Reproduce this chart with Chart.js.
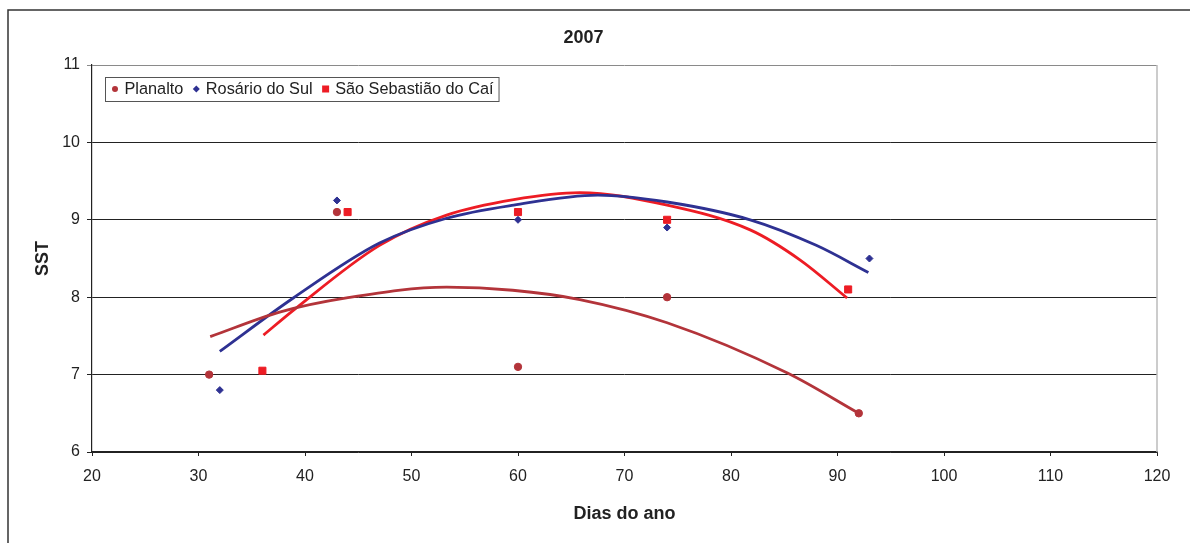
<!DOCTYPE html>
<html>
<head>
<meta charset="utf-8">
<script src="https://cdn.jsdelivr.net/npm/chart.js@4/dist/chart.umd.min.js"></script>
<style>
  html, body { margin: 0; padding: 0; background: #fff; }
  #wrap { width: 1190px; height: 543px; }
</style>
</head>
<body>
<div id="wrap"><canvas id="chart" width="1190" height="543"></canvas></div>
<script>
// measured points (dias do ano, SST)
const planaltoX = [31, 43, 60, 74, 92];
const planaltoY = [7.0, 9.1, 7.1, 8.0, 6.5];
const rosarioX = [32, 43, 60, 74, 93];
const rosarioY = [6.8, 9.25, 9.0, 8.9, 8.5];
const caiX = [36, 44, 60, 74, 91];
const caiY = [7.05, 9.1, 9.1, 9.0, 8.1];

// trend curves
const planaltoTrendX = [31.1, 37.7, 43.9, 53.3, 59.5, 65.8, 74.0, 85.3, 92.0];
const planaltoTrendY = [7.49, 7.81, 7.99, 8.13, 8.09, 7.97, 7.67, 7.02, 6.50];
const rosarioTrendX = [32.0, 38.9, 47.0, 53.3, 59.6, 67.5, 74.0, 81.8, 88.0, 92.9];
const rosarioTrendY = [7.30, 7.99, 8.70, 9.02, 9.19, 9.32, 9.23, 9.00, 8.67, 8.32];
const caiTrendX = [36.1, 38.9, 47.0, 53.3, 59.6, 65.8, 74.0, 81.8, 86.5, 90.9];
const caiTrendY = [7.51, 7.83, 8.67, 9.06, 9.26, 9.35, 9.19, 8.87, 8.48, 7.99];

const seriesNames = ['Planalto', 'Rosário do Sul', 'São Sebastião do Caí'];
const xTicks = [20, 30, 40, 50, 60, 70, 80, 90, 100, 110, 120];
const yTicks = [6, 7, 8, 9, 10, 11];

const colPlanalto = '#b3343a';
const colRosario = '#2e3192';
const colCai = '#ed1c24';

const pts = (xs, ys) => xs.map((x, i) => ({ x: x, y: ys[i] }));

Chart.defaults.font.family = '"Liberation Sans", Arial, sans-serif';
Chart.defaults.color = '#222';

// outer frame, right edge of plot and the boxed legend
const framePlugin = {
  id: 'frame',
  beforeDraw(chart) {
    const ctx = chart.ctx;
    ctx.save();
    ctx.strokeStyle = '#333';
    ctx.lineWidth = 1.5;
    ctx.beginPath();
    ctx.moveTo(8, 543);
    ctx.lineTo(8, 10);
    ctx.lineTo(1190, 10);
    ctx.stroke();
    ctx.restore();
  },
  beforeDatasetsDraw(chart) {
    const ctx = chart.ctx, a = chart.chartArea;
    ctx.save();
    ctx.strokeStyle = '#bbb';
    ctx.lineWidth = 1.5;
    ctx.beginPath();
    ctx.moveTo(a.right, a.top);
    ctx.lineTo(a.right, a.bottom);
    ctx.stroke();
    ctx.restore();
  },
  afterDraw(chart) {
    const ctx = chart.ctx, a = chart.chartArea;
    const left = a.left + 13, top = a.top + 12, h = 24;
    const cy = top + h / 2;
    ctx.save();
    ctx.font = '16.3px "Liberation Sans", Arial, sans-serif';
    ctx.textBaseline = 'middle';
    let x = left + 10;
    const shapes = ['circle', 'diamond', 'square'];
    const cols = [colPlanalto, colRosario, colCai];
    seriesNames.forEach((name, i) => {
      ctx.fillStyle = cols[i];
      ctx.beginPath();
      if (shapes[i] === 'circle') {
        ctx.arc(x, cy, 3, 0, Math.PI * 2);
      } else if (shapes[i] === 'diamond') {
        ctx.moveTo(x, cy - 3.5); ctx.lineTo(x + 3.5, cy);
        ctx.lineTo(x, cy + 3.5); ctx.lineTo(x - 3.5, cy);
        ctx.closePath();
      } else {
        ctx.rect(x - 3.5, cy - 3.5, 7, 7);
      }
      ctx.fill();
      ctx.fillStyle = '#222';
      ctx.fillText(name, x + 9.5, cy + 1);
      x = x + 9.5 + ctx.measureText(name).width + 13;
    });
    const right = x - 13 + 5;
    ctx.strokeStyle = '#555';
    ctx.lineWidth = 1;
    ctx.strokeRect(left + 0.5, top + 0.5, right - left, h);
    ctx.restore();
  }
};

new Chart(document.getElementById('chart'), {
  type: 'scatter',
  data: {
    datasets: [
      { label: seriesNames[0], data: pts(planaltoX, planaltoY), backgroundColor: colPlanalto,
        borderColor: colPlanalto, pointStyle: 'circle', pointRadius: 3.7, order: 0 },
      { label: seriesNames[1], data: pts(rosarioX, rosarioY), backgroundColor: colRosario,
        borderColor: colRosario, pointStyle: 'rectRot', pointRadius: 3.5, order: 0 },
      { label: seriesNames[2], data: pts(caiX, caiY), backgroundColor: colCai,
        borderColor: colCai, pointStyle: 'rect', pointRadius: 5, order: 0 },
      { label: 'trend Planalto', data: pts(planaltoTrendX, planaltoTrendY), showLine: true,
        borderColor: colPlanalto, borderWidth: 2.8, pointRadius: 0,
        cubicInterpolationMode: 'monotone', order: 1 },
      { label: 'trend Rosário', data: pts(rosarioTrendX, rosarioTrendY), showLine: true,
        borderColor: colRosario, borderWidth: 2.8, pointRadius: 0,
        cubicInterpolationMode: 'monotone', order: 1 },
      { label: 'trend Caí', data: pts(caiTrendX, caiTrendY), showLine: true,
        borderColor: colCai, borderWidth: 2.8, pointRadius: 0,
        cubicInterpolationMode: 'monotone', order: 1 }
    ]
  },
  options: {
    responsive: false,
    animation: false,
    events: [],
    layout: { padding: { left: 10, right: 33, top: 0, bottom: 0 } },
    plugins: {
      legend: { display: false },
      tooltip: { enabled: false },
      title: {
        display: true,
        text: '2007',
        color: '#222',
        font: { size: 18, weight: 'bold' },
        padding: { top: 27.5, bottom: 15.9 }
      }
    },
    scales: {
      x: {
        type: 'linear',
        min: xTicks[0],
        max: xTicks[xTicks.length - 1],
        afterBuildTicks: s => { s.ticks = xTicks.map(v => ({ value: v })); },
        afterFit: s => { s.height = 91; },
        ticks: { font: { size: 16 }, padding: 11, color: '#222' },
        grid: { drawOnChartArea: false, drawTicks: true, tickLength: 4, color: '#222' },
        border: { display: true, color: '#222', width: 1.2 },
        title: { display: true, text: 'Dias do ano', color: '#222',
                 font: { size: 18, weight: 'bold' }, padding: { top: 0, bottom: 18.5 } }
      },
      y: {
        type: 'linear',
        min: yTicks[0],
        max: yTicks[yTicks.length - 1],
        afterBuildTicks: s => { s.ticks = yTicks.map(v => ({ value: v })); },
        afterFit: s => { s.width = 82; },
        ticks: { font: { size: 16 }, padding: 7, color: '#222' },
        grid: { tickLength: 5, lineWidth: 1,
                color: c => (c.tick && c.tick.value === 11) ? '#8a8a8a' : '#222' },
        border: { display: true, color: '#222', width: 1.2 },
        title: { display: true, text: 'SST', color: '#222',
                 font: { size: 18, weight: 'bold' }, padding: { top: 22, bottom: 0 } }
      }
    }
  },
  plugins: [framePlugin]
});
</script>
</body>
</html>
